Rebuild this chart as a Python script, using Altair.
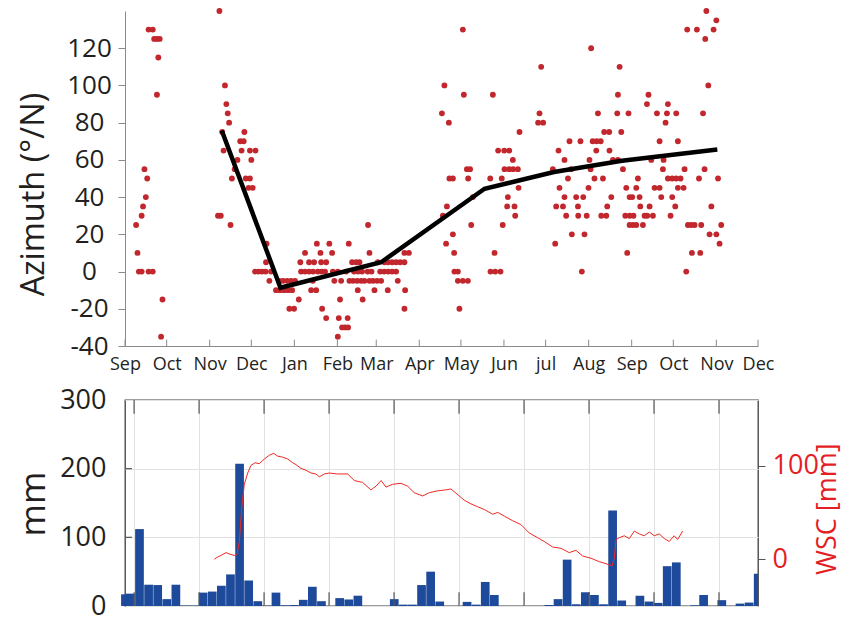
import altair as alt
import pandas as pd

FONT = "Open Sans"
TXT = "#231f20"

# ---------------- top panel data ----------------
month_days = [0, 30, 61, 91, 122, 153, 181, 212, 242, 273, 303, 334, 365, 395, 426, 456]
month_labels = ["Sep", "Oct", "Nov", "Dec", "Jan", "Feb", "Mar", "Apr", "May", "Jun",
                "jul", "Aug", "Sep", "Oct", "Nov", "Dec"]
az_ticks = [-40, -20, 0, 20, 40, 60, 80, 100, 120]

# (day since 1 Sep, azimuth deg)
az_obs = [
    (68, 140), (418.8, 140),
    (426, 135),
    (17, 130), (20, 130), (243.4, 130), (405, 130), (412, 130), (424, 130),
    (21, 125), (23, 125), (25, 125), (418, 125),
    (335.8, 120),
    (24, 115),
    (299.8, 110), (356.3, 110),
    (72, 100), (230.1, 100), (420.2, 100),
    (23, 95), (244.1, 95), (265, 95), (355.1, 95), (377.1, 95),
    (73, 90), (376, 90), (391.1, 90),
    (74, 85), (228.3, 85), (298.6, 85), (340.7, 85), (354.6, 85), (362.7, 85), (383.2, 85),
    (390.4, 85), (397.1, 85), (416.4, 85),
    (75, 80), (233.3, 80), (297.6, 80), (301.2, 80), (389.4, 80),
    (70, 75), (86, 75), (284.2, 75), (345.2, 75), (348.8, 75), (357.5, 75),
    (83, 70), (85.5, 70), (320.2, 70), (328.1, 70), (336.9, 70), (339.8, 70), (342.7, 70),
    (385.1, 70), (398.3, 70),
    (71, 65), (84, 65), (90, 65), (94, 65), (268.8, 65), (273.2, 65), (276.8, 65), (312.3, 65),
    (339.5, 65), (349, 65),
    (81, 60), (91, 60), (279.4, 60), (316.6, 60), (334.6, 60), (351.5, 60), (355.1, 60),
    (379.1, 60), (388, 60),
    (14, 55), (79, 55), (246.3, 55), (248.6, 55), (273.4, 55), (276.8, 55), (279.6, 55),
    (283, 55), (308.2, 55), (321.4, 55), (335.4, 55), (358.7, 55), (387.5, 55), (403.1, 55),
    (417.5, 55),
    (16, 50), (77, 50), (87, 50), (90, 50), (233.7, 50), (236.2, 50), (247.2, 50), (263.1, 50),
    (271.4, 50), (319.1, 50), (338.2, 50), (344.3, 50), (369.5, 50), (391.1, 50), (394.2, 50),
    (397.1, 50), (400.2, 50), (413.5, 50), (427.2, 50),
    (89, 45), (92, 45), (283.5, 45), (313, 45), (333.9, 45), (361.1, 45), (368.3, 45),
    (381.5, 45), (385.1, 45), (398.3, 45), (402.4, 45),
    (15, 40), (250.6, 40), (275.8, 40), (316.6, 40), (325, 40), (330.1, 40), (350.3, 40),
    (363.5, 40), (365.4, 40), (370.7, 40), (386.3, 40), (394.2, 40),
    (13, 35), (231.9, 35), (275.3, 35), (280.6, 35), (310.6, 35), (315.5, 35), (326.3, 35),
    (347.4, 35), (371.2, 35), (377.9, 35), (396.4, 35), (422.4, 35),
    (12, 30), (67, 30), (69, 30), (229, 30), (281.1, 30), (317.8, 30), (326.5, 30), (332.6, 30),
    (343.1, 30), (346.7, 30), (360.4, 30), (363.6, 30), (366.3, 30), (374.3, 30), (376.2, 30),
    (380.3, 30), (393, 30),
    (8, 25), (76, 25), (175.1, 25), (249.4, 25), (272.1, 25), (363.5, 25), (365.9, 25),
    (368.3, 25), (373.1, 25), (405.5, 25), (407.9, 25), (410.3, 25), (415.1, 25), (429.5, 25),
    (236.2, 20), (321.9, 20), (331, 20), (421.1, 20), (426, 20),
    (102, 15), (138.2, 15), (147.2, 15), (161.2, 15), (231.3, 15), (309.9, 15), (428.3, 15),
    (9, 10), (129.7, 10), (140.8, 10), (149.2, 10), (176.1, 10), (201.3, 10), (204.5, 10),
    (237.1, 10), (266.2, 10), (361.8, 10), (408.4, 10), (414.4, 10),
    (101.6, 5), (126.3, 5), (132.6, 5), (136.2, 5), (141.3, 5), (144.9, 5), (163.6, 5),
    (166.5, 5), (168.9, 5), (182.1, 5), (186.9, 5), (189.5, 5), (192.4, 5), (195.3, 5),
    (198.2, 5), (201.3, 5),
    (10, 0), (12, 0), (17, 0), (20, 0), (93.7, 0), (96.2, 0), (98.7, 0), (101.3, 0), (105.2, 0),
    (126.8, 0), (129.7, 0), (132.6, 0), (135.5, 0), (138.9, 0), (141.6, 0), (144.1, 0),
    (149.7, 0), (153.3, 0), (159.3, 0), (165, 0), (167.9, 0), (170.8, 0), (174.8, 0),
    (177.6, 0), (183.8, 0), (186.7, 0), (189.6, 0), (192.4, 0), (195.3, 0), (237.3, 0),
    (239.8, 0), (263.3, 0), (266.7, 0), (270.5, 0), (329.1, 0), (404.3, 0),
    (104, -5), (111.2, -5), (113.9, -5), (116.8, -5), (119.6, -5), (122.5, -5), (135.3, -5),
    (150.8, -5), (155.7, -5), (161.7, -5), (164.3, -5), (167.2, -5), (170.1, -5), (172.5, -5),
    (176.1, -5), (178.7, -5), (181.6, -5), (184.5, -5), (196.5, -5), (239.8, -5), (243.4, -5),
    (247, -5),
    (108.8, -10), (111.7, -10), (114.6, -10), (117.5, -10), (120.4, -10), (134.1, -10),
    (137.7, -10), (167.7, -10), (179.7, -10), (189.3, -10), (201.8, -10),
    (27, -15), (125.2, -15), (154.9, -15), (171.2, -15),
    (118.4, -20), (121.8, -20), (142, -20), (201.3, -20), (240.9, -20),
    (144.9, -25), (154, -25), (160.4, -25),
    (156.4, -30), (158.6, -30), (160.7, -30),
    (26, -35), (153.3, -35),
]

trend_day = [69.7, 112, 184.5, 259, 309, 358, 426.7]
trend_deg = [75.8, -8.7, 5, 44.5, 53.5, 59.5, 65.6]

# ---------------- bottom panel data ----------------
rain_mm = [17, 18, 112, 31, 30.5, 10, 31, 0.5, 0.5, 19.5, 21, 29.5, 46, 207, 37, 7, 0.5, 19.5,
           1, 1.5, 9, 28, 7, 0, 11.5, 9.5, 15, 0, 0, 0, 10, 2, 2, 30.5, 50, 6.5, 0, 0, 6, 2,
           35, 16, 0, 0, 0, 0, 0, 1.5, 10, 67.5, 2.5, 20, 16, 2.5, 139, 8, 0, 15, 6.5, 4.5,
           58, 63.5, 0, 1, 16, 0, 8.5, 0, 3.5, 5, 47]
week_start = [-10] + [7 * k - 20.2 for k in range(2, len(rain_mm) + 1)]
grid_days = [0, 50, 100, 150, 200, 250, 300, 350, 400, 450]

wsc_obs = [
    (61.7, 0), (64.3, 2.3), (66.8, 4), (70.7, 7), (74.5, 5), (77.1, 4), (79.2, 5), (81, 19),
    (82.8, 55), (84.8, 80), (87.4, 92), (89.9, 100), (93, 103), (96.3, 102), (100.2, 107),
    (104, 111), (107.4, 113), (110.5, 110), (114.3, 109), (118.2, 107), (122, 103),
    (124.5, 101), (128.4, 97), (132.2, 95), (136.1, 92), (139.9, 91), (142.5, 88),
    (146.4, 91), (150.2, 92), (156.6, 91), (164.3, 91), (169.4, 84), (175.8, 82), (182.2, 74),
    (186.1, 78), (190, 84), (193.8, 77), (198.9, 80), (205.3, 81), (210.4, 78), (215.5, 71),
    (222, 67.5), (227.1, 71), (233.5, 73), (239.8, 74), (243.8, 75), (248.9, 69), (254, 63),
    (259.2, 59), (264.3, 56), (269.5, 53), (275.9, 48), (279.8, 50), (284.8, 46),
    (291.3, 41), (297.6, 37), (304, 28), (310.4, 23), (315.5, 19), (322, 13), (328.4, 11.6),
    (334.8, 7), (339.9, 9.5), (345.1, 3.4), (351.5, 1), (357.9, -2.7), (363, -4.8),
    (367.6, -7.3), (369.5, 1.6), (370.8, 21), (373.3, 23), (377.1, 25), (381, 22),
    (384.8, 30), (388.7, 27), (392.5, 25), (396.4, 29), (400.2, 25), (404, 27), (407.9, 22),
    (411.7, 19), (415.5, 25), (418.2, 21), (422, 30),
]

# ---------------- frames ----------------
df_az = pd.DataFrame(az_obs, columns=["day", "deg"])
df_trend = pd.DataFrame({"day": trend_day, "deg": trend_deg})
df_mt = pd.DataFrame({"day": month_days})
df_rain = pd.DataFrame({"start": week_start, "mm": rain_mm})
df_rain["end"] = [min(s + 6.7, 480) for s in week_start]
df_wsc = pd.DataFrame(wsc_obs, columns=["day", "wsc"])
df_grid = pd.DataFrame({"day": grid_days})
df_lt = pd.DataFrame({"mm": [100, 200]})

label_expr = " : ".join(f"datum.value == {d} ? '{l}'" for d, l in zip(month_days, month_labels)) + " : ''"
neg_expr = "datum.value < 0 ? '-' + abs(datum.value) : '' + datum.value"

xs_top = alt.Scale(domain=[0, 456], nice=False, zero=False)
ys_top = alt.Scale(domain=[-40, 140], nice=False, zero=False)

pts = alt.Chart(df_az).mark_circle(size=34, color="#c1272d", opacity=1).encode(
    x=alt.X("day:Q", scale=xs_top,
            axis=alt.Axis(values=month_days, labelExpr=label_expr, title=None, ticks=False,
                          grid=False, domainColor="#8a8a8a", labelFontSize=18, labelPadding=9,
                          labelFlush=False, labelOverlap=False, labelColor=TXT)),
    y=alt.Y("deg:Q", scale=ys_top,
            axis=alt.Axis(values=az_ticks, labelExpr=neg_expr, title="Azimuth (°/N)",
                          titleFontSize=32.5, titleFontWeight="normal", titleColor=TXT,
                          titleX=-82, titleY=183, titleAlign="center",
                          titleBaseline="alphabetic", titleAngle=270,
                          labelFontSize=26, labelColor=TXT, labelAlign="center",
                          tickSize=7, tickColor="#8a8a8a",
                          domainColor="#8a8a8a", grid=False, labelPadding=29)),
)
trend = alt.Chart(df_trend).mark_line(color="black", strokeWidth=4.5).encode(
    x=alt.X("day:Q", scale=xs_top), y=alt.Y("deg:Q", scale=ys_top))
mticks = alt.Chart(df_mt).mark_rule(color="#8a8a8a", strokeWidth=1).encode(
    x=alt.X("day:Q", scale=xs_top), y=alt.datum(-40), y2=alt.datum(-36.6))

top = alt.layer(pts, trend, mticks).properties(width=633, height=335,
                                                view=alt.ViewBackground(stroke=None))

xs_bot = alt.Scale(domain=[-7, 480], nice=False, zero=False)
ys_mm = alt.Scale(domain=[0, 300], nice=False, zero=False)

bars = alt.Chart(df_rain).mark_bar(color="#1d4a9a").encode(
    x=alt.X("start:Q", scale=xs_bot,
            axis=alt.Axis(values=grid_days, grid=True, gridColor="#e2e2e2", labels=False,
                          ticks=False, domain=False, title=None)),
    x2="end:Q",
    y=alt.Y("mm:Q", scale=ys_mm,
            axis=alt.Axis(values=[0, 100, 200, 300], grid=True, gridColor="#e2e2e2",
                          title="mm", titleFontSize=35, titleFontWeight="normal",
                          titleColor=TXT, titleX=-81, titleY=103.5, titleAlign="center",
                          titleBaseline="alphabetic", titleAngle=270, labelFontSize=27,
                          labelColor=TXT, ticks=False, domain=False, labelPadding=19)),
    y2=alt.Y2(datum=0),
)
bt = alt.Chart(df_grid).mark_rule(color="#555555", strokeWidth=1.2).encode(
    x=alt.X("day:Q", scale=xs_bot), y=alt.Y(datum=0, scale=ys_mm, axis=None), y2=alt.datum(20))
tt = alt.Chart(df_grid).mark_rule(color="#555555", strokeWidth=1.2).encode(
    x=alt.X("day:Q", scale=xs_bot), y=alt.Y(datum=280, scale=ys_mm, axis=None), y2=alt.datum(300))
lt = alt.Chart(df_lt).mark_rule(color="#555555", strokeWidth=1.2).encode(
    y=alt.Y("mm:Q", scale=ys_mm, axis=None), x=alt.datum(-7), x2=alt.datum(-1.6))

wsc = alt.Chart(df_wsc).mark_line(color="#ee2a24", strokeWidth=1).encode(
    x=alt.X("day:Q", scale=xs_bot),
    y=alt.Y("wsc:Q", scale=alt.Scale(domain=[-50, 170], nice=False, zero=False),
            axis=alt.Axis(orient="right", values=[0, 100], title="WSC [mm]",
                          titleFontSize=27, titleFontWeight="normal", titleColor="#e31e24",
                          titleAngle=270, titleBaseline="alphabetic", titleAlign="center",
                          titleX=77, titleY=108.7, labelFontSize=27,
                          labelColor="#e31e24", tickColor="#555555", tickSize=7, domain=False,
                          grid=False, labelPadding=7)),
)

bottom = alt.layer(bars, bt, tt, lt, wsc).resolve_scale(y="independent").properties(
    width=633, height=206, view=alt.ViewBackground(stroke="#3c3c3c", strokeWidth=1.3))

chart = alt.vconcat(top, bottom, spacing=12).properties(
    padding={"left": 7, "top": 0, "right": 0, "bottom": 0}
).configure(font=FONT).configure_axis(labelFont=FONT, titleFont=FONT)

chart.save("out.html", embed_options={"renderer": "svg", "actions": False})
